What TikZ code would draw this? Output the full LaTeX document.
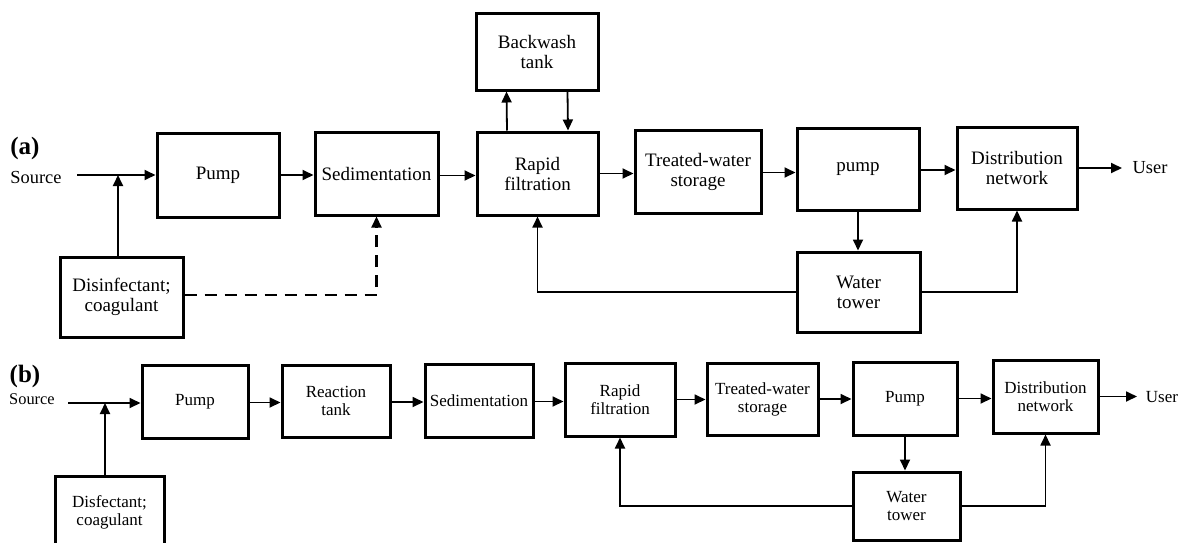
\documentclass[tikz,border=0pt]{standalone}
\usepackage{fontspec}
\setmainfont{Liberation Serif}
\usetikzlibrary{arrows.meta}
\begin{document}
\begin{tikzpicture}[x=0.5pt,y=-0.5pt,
  boxa/.style={draw, line width=1.5pt, align=center, inner sep=1pt,
    font=\fontsize{9.5}{10}\selectfont},
  boxb/.style={draw, line width=1.5pt, align=center, inner sep=1pt,
    font=\fontsize{8.5}{9}\selectfont},
  tip/.tip={Triangle[length=5.5pt,width=5pt]},
  arr/.style={line width=0.9pt, -tip},
  dsh/.style={line width=1.1pt, dash pattern=on 6pt off 4pt, -tip},
  lbl/.style={font=\fontsize{12.5}{13}\selectfont\bfseries, inner sep=0pt},
  srct/.style={inner sep=0pt}
]
\useasboundingbox (0,0) rectangle (1183,542);
\clip (0,0) rectangle (1183,542);

% ---------------- (a) ----------------
\node[lbl] (la) at (25,148) {(a)};
\node[srct, font=\fontsize{9.2}{10}\selectfont] (srcta) at (36,177) {Source};
\node[srct, font=\fontsize{9.2}{10}\selectfont] (usera) at (1150,168) {User};

\node[boxa, minimum width=61pt, minimum height=42pt] (pumpa) at (218,175) {Pump};
\node[boxa, minimum width=61.5pt, minimum height=41.5pt] (seda) at (376.5,173.5) {Sedimentation};
\node[boxa, minimum width=60.5pt, minimum height=41.5pt] (rapa) at (537.5,173.5) {Rapid\\filtration};
\node[boxa, minimum width=61pt, minimum height=38.5pt] (backa) at (537,51.5) {Backwash\\tank};
\node[boxa, minimum width=63pt, minimum height=41.5pt] (trea) at (698,171.5) {Treated-water\\storage};
\node[boxa, minimum width=61pt, minimum height=41pt] (pumpa2) at (858,169) {pump};
\node[boxa, minimum width=60pt, minimum height=41pt] (dista) at (1017,168) {Distribution\\network};
\node[boxa, minimum width=61.5pt, minimum height=40pt] (wta) at (858.5,292) {Water\\tower};
\node[boxa, minimum width=61.5pt, minimum height=40pt] (disa) at (121.5,297) {Disinfectant;\\coagulant};

\coordinate (srca) at (77,175);
\coordinate (ja) at (118,175);
\coordinate (enda) at (1122,168);

\draw[arr] (srca) -- (pumpa.west);
\draw[arr] (ja |- disa.north) -- (ja);
\draw[arr] (pumpa.east) -- (pumpa.east -| seda.west);
\draw[arr] ([yshift=-1pt]seda.east) -- ([yshift=-1pt]seda.east -| rapa.west);
\draw[arr] (rapa.east) -- (rapa.east -| trea.west);
\draw[arr] ([yshift=-0.5pt]trea.east) -- ([yshift=-0.5pt]trea.east -| pumpa2.west);
\draw[arr] ([yshift=-0.5pt]pumpa2.east) -- ([yshift=-0.5pt]pumpa2.east -| dista.west);
\draw[arr] (dista.east) -- (dista.east -| enda);
\draw[arr] ([xshift=-15.25pt]rapa.north) -- ([xshift=-15.25pt]backa.south);
\draw[arr] ([xshift=15.25pt]backa.south) -- ([xshift=15.25pt]rapa.north);
\draw[dsh] ([yshift=1pt]disa.east) -| (seda.south);
\draw[arr] (pumpa2.south) -- (pumpa2.south |- wta.north);
\draw[arr] (wta.west) -| (rapa.south);
\draw[arr] (wta.east) -| (dista.south);

% ---------------- (b) ----------------
\node[lbl] (lb) at (25,376) {(b)};
\node[srct, font=\fontsize{8.2}{9}\selectfont] (srctb) at (32,399) {Source};
\node[srct, font=\fontsize{8.5}{9}\selectfont] (userb) at (1162,397) {User};

\node[boxb, minimum width=53pt, minimum height=36.5pt] (pumpb) at (195,401.5) {Pump};
\node[boxb, minimum width=54pt, minimum height=36pt] (reab) at (336,401) {Reaction\\tank};
\node[boxb, minimum width=54pt, minimum height=36.5pt] (sedb) at (479,400.5) {Sedimentation};
\node[boxb, minimum width=55pt, minimum height=36.5pt] (rapb) at (620,399.5) {Rapid\\filtration};
\node[boxb, minimum width=55.5pt, minimum height=36pt] (treb) at (762.5,399) {Treated-water\\storage};
\node[boxb, minimum width=52pt, minimum height=36.5pt] (pumpb2) at (905,398.5) {Pump};
\node[boxb, minimum width=52.5pt, minimum height=36.5pt] (distb) at (1045.5,396.5) {Distribution\\network};
\node[boxb, minimum width=53.5pt, minimum height=34pt] (wtb) at (906.5,506) {Water\\tower};
\node[boxb, minimum width=54.5pt, minimum height=36pt] (disb) at (109.5,512) {Disfectant;\\coagulant};

\coordinate (srcb) at (68,403);
\coordinate (jb) at (105,403);
\coordinate (endb) at (1137,397);

\draw[arr] (srcb) -- (srcb -| pumpb.west);
\draw[arr] (jb |- disb.north) -- (jb);
\draw[arr] ([yshift=-0.5pt]pumpb.east) -- ([yshift=-0.5pt]pumpb.east -| reab.west);
\draw[arr] ([yshift=-0.5pt]reab.east) -- ([yshift=-0.5pt]reab.east -| sedb.west);
\draw[arr] ([yshift=-0.5pt]sedb.east) -- ([yshift=-0.5pt]sedb.east -| rapb.west);
\draw[arr] (rapb.east) -- (rapb.east -| treb.west);
\draw[arr] (treb.east) -- (treb.east -| pumpb2.west);
\draw[arr] (pumpb2.east) -- (pumpb2.east -| distb.west);
\draw[arr] (distb.east) -- (distb.east -| endb);
\draw[arr] (pumpb2.south) -- (pumpb2.south |- wtb.north);
\draw[arr] (wtb.west) -| (rapb.south);
\draw[arr] (wtb.east) -| (distb.south);
\end{tikzpicture}
\end{document}
